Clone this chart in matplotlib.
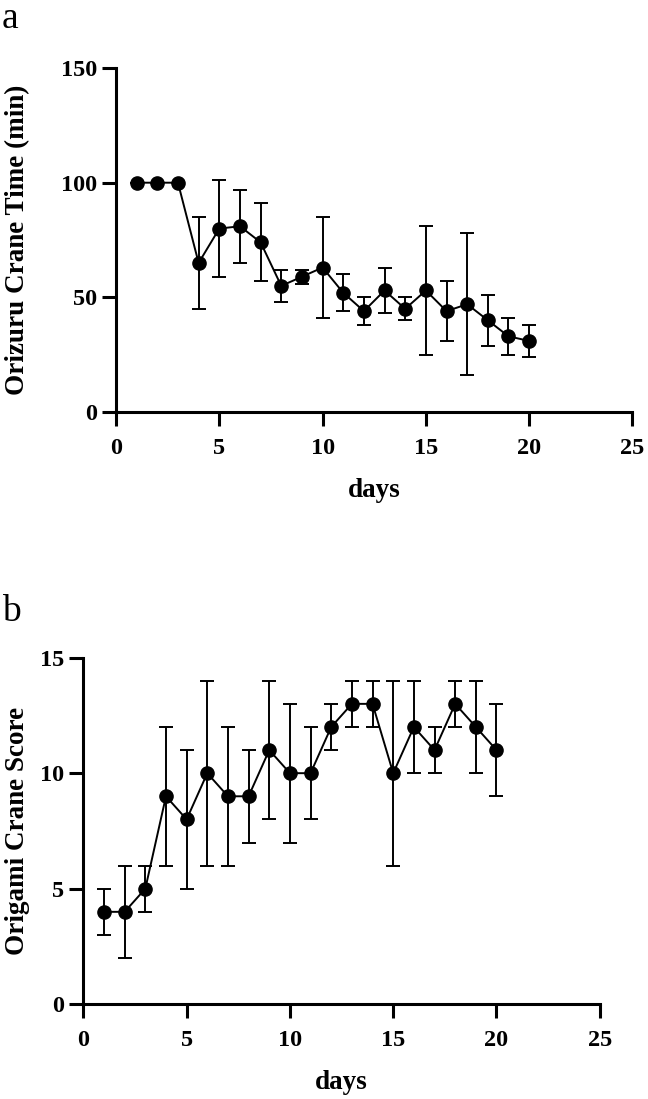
import matplotlib

matplotlib.use("Agg")
import matplotlib.pyplot as plt
import numpy as np

plt.rcParams.update({
    "font.family": "Liberation Serif",
    "font.weight": "bold",
    "axes.linewidth": 2.2,
})

days = np.arange(1, 21)

# panel a: folding time (min), mean with asymmetric error bars
time_mean = [100, 100, 100, 65, 80, 81, 74, 55, 59, 63, 52, 44, 53, 45, 53, 44, 47, 40, 33, 31]
time_hi = [100, 100, 100, 85, 101, 97, 91, 62, 62, 85, 60, 50, 63, 50, 81, 57, 78, 51, 41, 38]
time_lo = [100, 100, 100, 45, 59, 65, 57, 48, 56, 41, 44, 38, 43, 40, 25, 31, 16, 29, 25, 24]

# panel b: crane score
score_mean = [4, 4, 5, 9, 8, 10, 9, 9, 11, 10, 10, 12, 13, 13, 10, 12, 11, 13, 12, 11]
score_hi = [5, 6, 6, 12, 11, 14, 12, 11, 14, 13, 12, 13, 14, 14, 14, 14, 12, 14, 14, 13]
score_lo = [3, 2, 4, 6, 5, 6, 6, 7, 8, 7, 8, 11, 12, 12, 6, 10, 10, 12, 10, 9]


def _panel(ax, mean, hi, lo, ylim, yticks, ylabel):
    mean = np.asarray(mean, float)
    yerr = [mean - np.asarray(lo), np.asarray(hi) - mean]
    ax.errorbar(days, mean, yerr=yerr, fmt="none", ecolor="black",
                elinewidth=1.4, capsize=5, capthick=1.4, zorder=2)
    ax.plot(days, mean, color="black", linewidth=1.4, marker="o",
            markersize=9.5, zorder=3)
    ax.set_xlim(0, 25)
    ax.set_ylim(*ylim)
    ax.set_xticks([0, 5, 10, 15, 20, 25])
    ax.set_yticks(yticks)
    for s in ("top", "right"):
        ax.spines[s].set_visible(False)
    ax.tick_params(axis="both", length=10, width=2.2, labelsize=17.5)
    ax.tick_params(axis="x", pad=8.5)
    ax.tick_params(axis="y", pad=3.5)
    for lab in ax.get_xticklabels() + ax.get_yticklabels():
        lab.set_fontweight("bold")
    ax.set_xlabel("days", fontsize=19.5, fontweight="bold", labelpad=14)
    ax.set_ylabel(ylabel, fontsize=19.5, fontweight="bold")
    for a in ax.lines + ax.collections:
        a.set_clip_on(False)


fig = plt.figure(figsize=(6.48, 10.99), dpi=100, facecolor="white")

ax1 = fig.add_axes([0.179, 0.6251, 0.797, 0.313])
_panel(ax1, time_mean, time_hi, time_lo, (0, 150), [0, 50, 100, 150],
       "Orizuru Crane Time (min)")
ax1.yaxis.set_label_coords(-0.1665, 0.5)

ax2 = fig.add_axes([0.1286, 0.0862, 0.797, 0.3154])
_panel(ax2, score_mean, score_hi, score_lo, (0, 15), [0, 5, 10, 15],
       "Origami Crane Score")
ax2.yaxis.set_label_coords(-0.103, 0.5)

fig.text(0.003, 0.999, "a", fontsize=27, fontweight="normal", va="top")
fig.text(0.003, 0.435, "b", fontsize=27, fontweight="normal", va="baseline")

fig.savefig("out.png", dpi=100, facecolor="white")
